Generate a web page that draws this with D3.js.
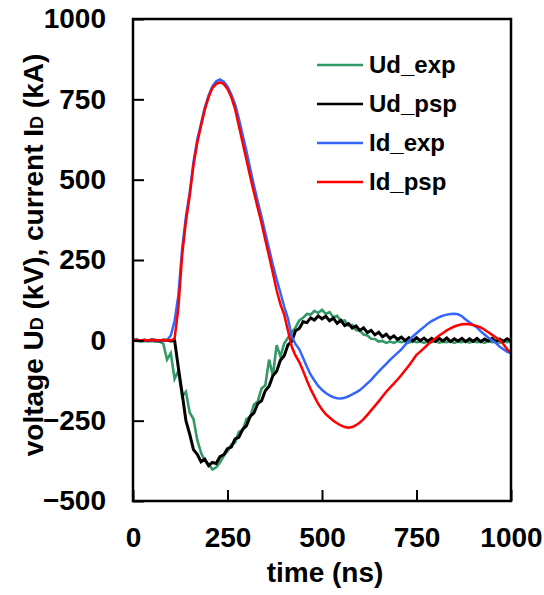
<!DOCTYPE html>
<html>
<head>
<meta charset="utf-8">
<script src="https://cdn.jsdelivr.net/npm/d3@7"></script>
<style>
  body { margin: 0; background: #fff; }
  text { font-family: "Liberation Sans", Arial, sans-serif; font-weight: bold; fill: #000; }
</style>
</head>
<body>
<svg width="544" height="595"></svg>
<script>
// sample times (ns)
const time = [
  0, 10, 20, 30, 40, 50, 60, 70, 80, 90,
  100, 110, 120, 130, 140, 150, 160, 170, 180, 190,
  200, 210, 220, 230, 240, 250, 260, 270, 280, 290,
  300, 310, 320, 330, 340, 350, 360, 370, 380, 390,
  400, 410, 420, 430, 440, 450, 460, 470, 480, 490,
  500, 510, 520, 530, 540, 550, 560, 570, 580, 590,
  600, 610, 620, 630, 640, 650, 660, 670, 680, 690,
  700, 710, 720, 730, 740, 750, 760, 770, 780, 790,
  800, 810, 820, 830, 840, 850, 860, 870, 880, 890,
  900, 910, 920, 930, 940, 950, 960, 970, 980, 990,
  1000
];

// voltage, measured (kV)
const udExp = [
  0, -2, -3, -2, -3, -2, -4, -3, -10, -60,
  -40, -120, -95, -175, -160, -225, -245, -310, -350, -375,
  -385, -402, -395, -380, -360, -345, -325, -318, -285, -280,
  -245, -238, -200, -190, -150, -140, -60, -110, -15, -50,
  -10, 8, 25, 40, 62, 70, 82, 80, 92, 85,
  95, 82, 88, 72, 76, 60, 62, 46, 48, 32,
  30, 18, 15, 5, 4, -4, -2, -8, -4, -8,
  -2, -6, -3, -7, -2, -6, -4, -8, -3, -6,
  -2, -7, -4, -6, -3, -8, -4, -6, -2, -7,
  -3, -6, -4, -8, -2, -6, -4, -7, -3, -6,
  -4
];

// voltage, PSpice (kV)
const udPsp = [
  0, 2, -2, 1, -1, 2, 0, -2, 1, 0,
  -2, 0, -85, -165, -250, -292, -340, -355, -378, -370,
  -390, -380, -383, -362, -356, -337, -332, -307, -302, -277,
  -266, -237, -226, -197, -188, -157, -143, -110, -96, -62,
  -48, -14, -3, 30, 37, 58, 55, 70, 63, 76,
  67, 75, 61, 69, 53, 62, 46, 52, 38, 45,
  31, 39, 24, 31, 17, 25, 11, 19, 6, 14,
  3, 10, -1, 8, -2, 8, -1, 7, -3, 6,
  -3, 6, -2, 7, -4, 5, -2, 6, -4, 5,
  -3, 6, -4, 4, -2, 6, -4, 4, -3, 5,
  -2
];

// current, measured (kA)
const idExp = [
  0, 0, 0, 0, 0, 0, 0, 0, 0, 0,
  15, 60, 140, 285, 385, 460, 555, 625, 675, 725,
  762, 790, 806, 812, 805, 790, 765, 735, 690, 640,
  590, 535, 482, 432, 385, 335, 285, 235, 190, 148,
  105, 68, 12, -12, -28, -55, -82, -107, -125, -142,
  -154, -164, -171, -177, -180, -181, -179, -174, -168, -162,
  -155, -145, -134, -123, -110, -97, -85, -73, -61, -50,
  -39, -28, -14, -2, 12, 22, 32, 42, 52, 60,
  66, 72, 77, 80, 82, 83, 81, 75, 65, 56,
  48, 40, 28, 18, 8, 0, -8, -20, -28, -36,
  -40
];

// current, PSpice (kA)
const idPsp = [
  0, 0, 0, 0, 0, 0, 0, 0, 0, 0,
  0, 5, 100, 265, 370, 450, 545, 615, 668, 718,
  757, 785, 798, 803, 798, 782, 757, 720, 668, 615,
  563, 510, 460, 412, 365, 312, 262, 210, 156, 112,
  80, 30, -20, -48, -68, -95, -125, -152, -175, -198,
  -215, -230, -240, -250, -258, -265, -270, -272, -270, -264,
  -256, -245, -232, -218, -204, -190, -175, -160, -147, -135,
  -122, -108, -93, -78, -62, -45, -35, -24, -13, -3,
  6, 15, 23, 31, 37, 43, 47, 50, 51, 50,
  48, 44, 40, 33, 25, 17, 9, 1, -12, -28,
  -38
];

const seriesNames = ['Ud_exp', 'Ud_psp', 'Id_exp', 'Id_psp'];
const seriesColors = ['#339966', '#000000', '#3366ff', '#ff0000'];
const seriesValues = [udExp, udPsp, idExp, idPsp];
const xTicks = [0, 250, 500, 750, 1000];
const yTicks = [-500, -250, 0, 250, 500, 750, 1000];

const svg = d3.select('svg');

const plotLeft = 133, plotRight = 511, plotTop = 19, plotBottom = 501;

const x = d3.scaleLinear().domain([0, 1000]).range([plotLeft, plotRight]);
const y = d3.scaleLinear().domain([-500, 1000]).range([plotBottom, plotTop]);

// curves
const line = d3.line()
    .x((d, i) => x(time[i]))
    .y(d => y(d));

const widths = [2.6, 3, 2.5, 2.5];
seriesValues.forEach((vals, k) => {
  svg.append('path')
      .attr('d', line(vals))
      .attr('fill', 'none')
      .attr('stroke', seriesColors[k])
      .attr('stroke-width', widths[k])
      .attr('stroke-linejoin', 'miter');
});

// axes (ticks pointing inward)
const fmt = d3.format('d');
const xAxis = svg.append('g')
    .attr('transform', `translate(0,${plotBottom})`)
    .call(d3.axisBottom(x).tickValues(xTicks).tickFormat(fmt)
      .tickSizeInner(-11).tickSizeOuter(0).tickPadding(26));
const yAxis = svg.append('g')
    .attr('transform', `translate(${plotLeft},0)`)
    .call(d3.axisLeft(y).tickValues(yTicks).tickFormat(fmt)
      .tickSizeInner(-11).tickSizeOuter(0).tickPadding(27));

[xAxis, yAxis].forEach(a => {
  a.select('.domain').remove();
  a.selectAll('.tick line').attr('stroke', '#000').attr('stroke-width', 2);
  a.selectAll('.tick text')
      .style('font-size', '28px')
      .style('font-family', '"Liberation Sans", Arial, sans-serif')
      .style('font-weight', 'bold')
      .attr('fill', '#000');
});

// frame
svg.append('rect')
    .attr('x', plotLeft).attr('y', plotTop)
    .attr('width', plotRight - plotLeft).attr('height', plotBottom - plotTop)
    .attr('fill', 'none')
    .attr('stroke', '#000')
    .attr('stroke-width', 2.5);

// axis titles
svg.append('text')
    .attr('x', (plotLeft + plotRight) / 2 + 3)
    .attr('y', 582)
    .attr('text-anchor', 'middle')
    .style('font-size', '28px')
    .text('time (ns)');

const yTitle = svg.append('text')
    .attr('transform', 'translate(43,255) rotate(-90)')
    .attr('text-anchor', 'middle')
    .style('font-size', '28px');
yTitle.append('tspan').text('voltage U');
yTitle.append('tspan').attr('font-size', '18px').text('D');
yTitle.append('tspan').text(' (kV), current I');
yTitle.append('tspan').attr('font-size', '18px').text('D');
yTitle.append('tspan').text(' (kA)');

// legend
const legend = svg.append('g');
seriesNames.forEach((name, k) => {
  const ly = 65 + k * 39;
  legend.append('line')
      .attr('x1', 317).attr('x2', 363)
      .attr('y1', ly).attr('y2', ly)
      .attr('stroke', seriesColors[k])
      .attr('stroke-width', 2.5);
  legend.append('text')
      .attr('x', 369)
      .attr('y', ly + 8)
      .style('font-size', '24px')
      .text(name);
});
</script>
</body>
</html>
